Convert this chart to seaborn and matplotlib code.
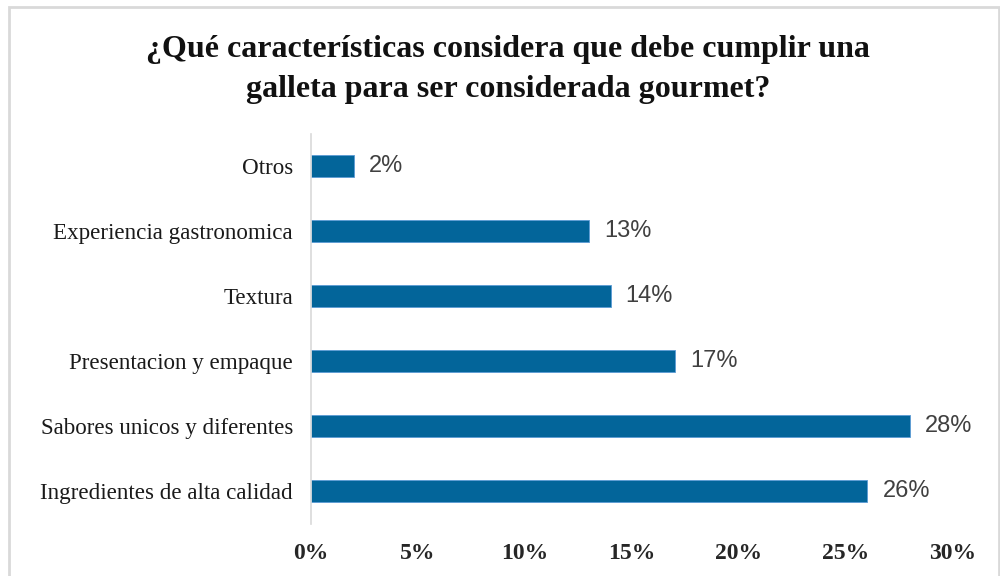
import matplotlib
matplotlib.use("Agg")
import matplotlib.pyplot as plt
from matplotlib.patches import Rectangle
from matplotlib.ticker import FuncFormatter
import seaborn as sns
import pandas as pd

categories = [
    "Otros",
    "Experiencia gastronomica",
    "Textura",
    "Presentacion y empaque",
    "Sabores unicos y diferentes",
    "Ingredientes de alta calidad",
]
values = [2, 13, 14, 17, 28, 26]
x_ticks = [0, 5, 10, 15, 20, 25, 30]

title = "¿Qué características considera que debe cumplir una\ngalleta para ser considerada gourmet?"

sns.set_theme(style="white")
plt.rcParams["font.family"] = ["Liberation Serif", "DejaVu Serif"]

df = pd.DataFrame({"categoria": categories, "valor": values})

fig = plt.figure(figsize=(10, 5.76), dpi=100)
ax = fig.add_axes([0.311, 0.0911, 0.642, 0.677])

sns.barplot(data=df, x="valor", y="categoria", order=categories,
            color="#03659A", saturation=1, width=0.35, ax=ax,
            edgecolor="#5B9BD5", linewidth=0.6)

ax.set_xlim(0, 30)
ax.set_ylim(len(categories) - 0.5, -0.5)
ax.set_xticks(x_ticks)
ax.xaxis.set_major_formatter(FuncFormatter(lambda v, p: f"{v:.0f}%"))
ax.set_xlabel("")
ax.set_ylabel("")

for s in ["top", "right", "bottom"]:
    ax.spines[s].set_visible(False)
ax.spines["left"].set_color("#D9D9D9")
ax.spines["left"].set_linewidth(1.2)

ax.tick_params(axis="y", length=0, pad=13, labelsize=16.6, labelcolor="#1a1a1a")
ax.tick_params(axis="x", length=0, pad=14, labelsize=17)
for lab in ax.get_xticklabels():
    lab.set_fontweight("bold")

for i, v in enumerate(values):
    ax.text(v + 0.7, i, f"{v}%", va="center", ha="left",
            fontsize=17, color="#404040", family=["Liberation Sans", "DejaVu Sans"])

fig.text(0.508, 0.879, title, ha="center", va="center", fontsize=23,
         fontweight="bold", linespacing=1.5, color="#111111")

fig.patches.append(Rectangle((0.009, -0.01), 0.99, 0.998, transform=fig.transFigure,
                             fill=False, edgecolor="#D9D9D9", linewidth=2))

fig.savefig("out.png", dpi=100, facecolor="white")
